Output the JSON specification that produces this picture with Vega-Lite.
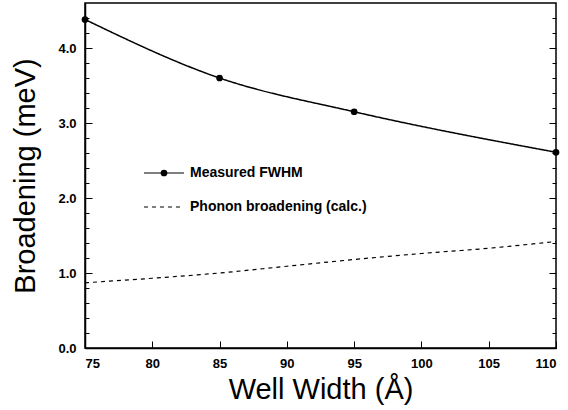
{
  "$schema": "https://vega.github.io/schema/vega-lite/v6.json",
  "width": 471,
  "height": 345,
  "autosize": "none",
  "padding": {"left": 85, "top": 3, "right": 12, "bottom": 62},
  "background": "white",
  "config": {
    "view": {"stroke": "black", "strokeWidth": 1.5},
    "axis": {
      "grid": false,
      "domainColor": "black",
      "domainWidth": 1.5,
      "tickColor": "black",
      "labelColor": "black",
      "titleColor": "black",
      "labelFont": "Liberation Sans",
      "labelFontWeight": "bold",
      "labelFontSize": 13,
      "titleFont": "Liberation Sans",
      "titleFontWeight": "normal",
      "titleFontSize": 29
    },
    "legend": {"labelFont": "Liberation Sans", "labelFontSize": 14, "labelFontWeight": "bold", "labelColor": "black", "labelLimit": 400}
  },
  "data": {
    "values": [
      {"w": 75, "b": 4.38, "series": "Measured FWHM"},
      {"w": 85, "b": 3.6, "series": "Measured FWHM"},
      {"w": 95, "b": 3.15, "series": "Measured FWHM"},
      {"w": 110, "b": 2.61, "series": "Measured FWHM"},
      {"w": 75, "b": 0.87, "series": "Phonon broadening (calc.)"},
      {"w": 80, "b": 0.93, "series": "Phonon broadening (calc.)"},
      {"w": 85, "b": 1.0, "series": "Phonon broadening (calc.)"},
      {"w": 90, "b": 1.09, "series": "Phonon broadening (calc.)"},
      {"w": 95, "b": 1.18, "series": "Phonon broadening (calc.)"},
      {"w": 100, "b": 1.26, "series": "Phonon broadening (calc.)"},
      {"w": 105, "b": 1.33, "series": "Phonon broadening (calc.)"},
      {"w": 110, "b": 1.42, "series": "Phonon broadening (calc.)"}
    ]
  },
  "encoding": {
    "x": {
      "field": "w", "type": "quantitative",
      "scale": {"domain": [75, 110], "nice": false, "zero": false},
      "axis": {
        "title": "Well Width (Å)",
        "values": [75, 80, 85, 90, 95, 100, 105, 110],
        "tickSize": -7,
        "labelFontWeight": "bold",
        "labelPadding": 16,
        "titlePadding": 5
      }
    }
  },
  "layer": [
    {
      "mark": {"type": "line", "color": "black", "interpolate": "monotone", "clip": false},
      "encoding": {
        "y": {
          "field": "b", "type": "quantitative",
          "scale": {"domain": [0, 4.6], "nice": false},
          "axis": {
            "title": "Broadening (meV)",
            "values": [0, 0.2, 0.4, 0.6, 0.8, 1, 1.2, 1.4, 1.6, 1.8, 2, 2.2, 2.4, 2.6, 2.8, 3, 3.2, 3.4, 3.6, 3.8, 4, 4.2, 4.4],
            "labelExpr": "abs(datum.value - round(datum.value)) < 0.01 ? format(datum.value, '.1f') : ''",
            "tickSize": {"condition": {"test": "abs(datum.value - round(datum.value)) < 0.01", "value": -7}, "value": -4},
            "labelPadding": 16,
            "titlePadding": 17
          }
        },
        "strokeDash": {
          "field": "series", "type": "nominal",
          "scale": {"domain": ["Measured FWHM", "Phonon broadening (calc.)"], "range": [[1, 0], [4, 4]]},
          "legend": {
            "title": null,
            "orient": "none",
            "legendX": 58,
            "legendY": 149,
            "symbolType": "stroke",
            "symbolSize": 1600,
            "symbolStrokeColor": "black",
            "symbolStrokeWidth": 1.2,
            "rowPadding": 6,
            "labelOffset": 5
          }
        },
        "strokeWidth": {
          "field": "series", "type": "nominal",
          "scale": {"domain": ["Measured FWHM", "Phonon broadening (calc.)"], "range": [1.5, 1.2]},
          "legend": null
        }
      }
    },
    {
      "transform": [{"filter": "datum.series == 'Measured FWHM'"}],
      "mark": {"type": "point", "filled": true, "color": "black", "size": 45, "opacity": 1, "clip": false},
      "encoding": {
        "y": {
          "field": "b", "type": "quantitative",
          "axis": {
            "orient": "right",
            "title": null,
            "labels": false,
            "domain": false,
            "values": [0, 0.2, 0.4, 0.6, 0.8, 1, 1.2, 1.4, 1.6, 1.8, 2, 2.2, 2.4, 2.6, 2.8, 3, 3.2, 3.4, 3.6, 3.8, 4, 4.2, 4.4],
            "tickSize": {"condition": {"test": "abs(datum.value - round(datum.value)) < 0.01", "value": -7}, "value": -4}
          }
        },
        "shape": {
          "field": "series", "type": "nominal",
          "scale": {"domain": ["Measured FWHM"], "range": ["circle"]},
          "legend": {
            "title": null,
            "orient": "none",
            "legendX": 72,
            "legendY": 163,
            "symbolFillColor": "black",
            "symbolStrokeColor": "black",
            "symbolSize": 45,
            "labelExpr": "''",
            "padding": 0
          }
        }
      }
    }
  ],
  "resolve": {"axis": {"y": "independent"}, "legend": {"strokeDash": "independent", "shape": "independent"}}
}
